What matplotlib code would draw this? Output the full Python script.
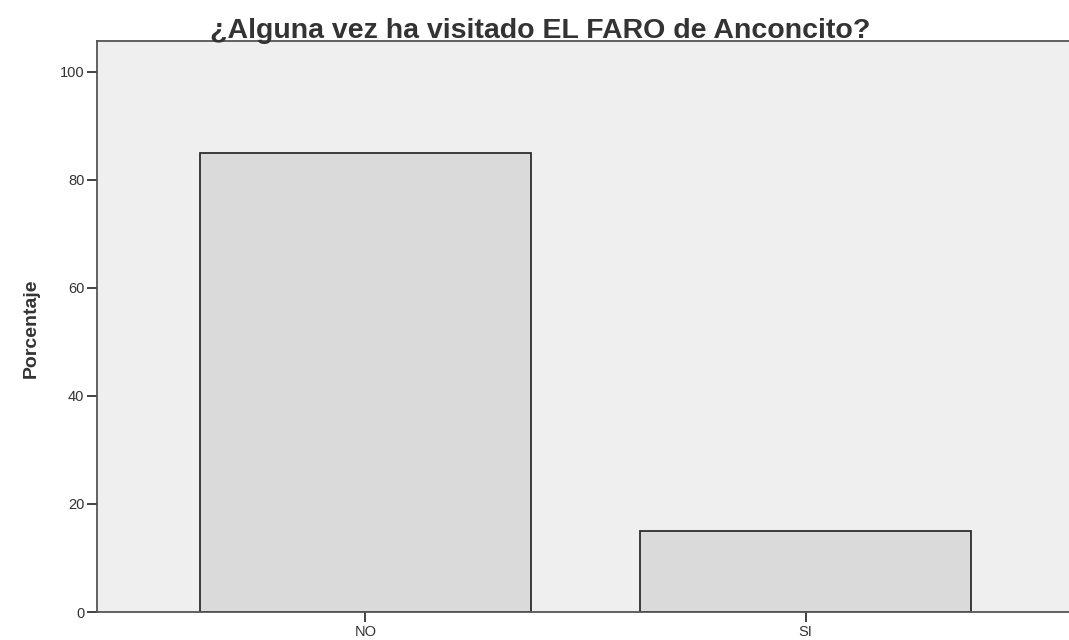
import matplotlib
matplotlib.use("Agg")
import matplotlib.pyplot as plt

categories = ["NO", "SI"]
percentages = [85.0, 15.0]
yticks = [0, 20, 40, 60, 80, 100]
title = "¿Alguna vez ha visitado EL FARO de Anconcito?"
ylabel = "Porcentaje"

fig = plt.figure(figsize=(10.69, 6.40), dpi=100)
ax = fig.add_axes([97/1069, 28/640, 977/1069, 571/640])
ax.set_facecolor("#efeff0")

x = list(range(len(categories)))
ax.bar(x, percentages, width=0.752, color="#dadada", edgecolor="#2e2e2e", linewidth=1.3)

ax.set_xlim(-0.61, 1.61)
ax.set_ylim(0, 105.7)
ax.set_yticks(yticks)
ax.set_yticklabels([str(t) for t in yticks], fontsize=10.5, color="#333333", family="Liberation Sans")
ax.set_xticks(x)
ax.set_xticklabels(categories, fontsize=10.5, color="#333333", family="Liberation Sans")
ax.tick_params(axis="both", length=7, width=1.3, color="#333333", pad=2)

for side in ["top", "left", "bottom"]:
    ax.spines[side].set_color("#555555")
    ax.spines[side].set_linewidth(1.3)
ax.spines["right"].set_visible(False)

fig.text(540/1069, 1 - 31/640, title, ha="center", va="center", fontsize=20.5,
         fontweight="bold", family="Liberation Sans", color="#333333")
fig.text(31/1069, 1 - 328/640, ylabel, ha="center", va="center", rotation=90,
         fontsize=14, fontweight="bold", family="Liberation Sans", color="#333333")

fig.savefig("out.png", dpi=100)
